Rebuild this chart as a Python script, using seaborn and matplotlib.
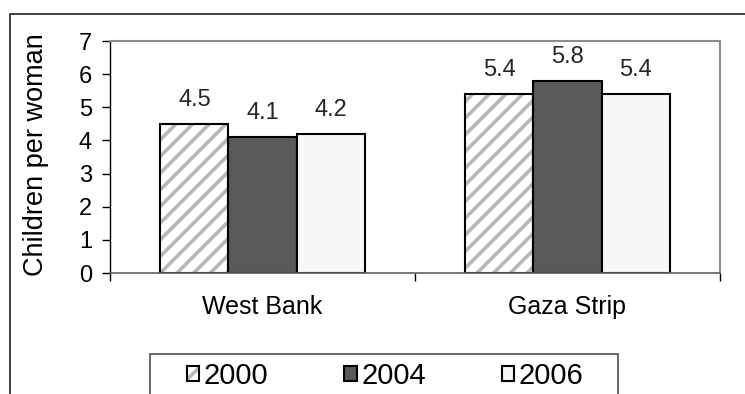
import matplotlib
matplotlib.use("Agg")
import matplotlib.pyplot as plt
import pandas as pd
import seaborn as sns
from matplotlib.colors import to_rgba
from matplotlib.lines import Line2D
from matplotlib.patches import Rectangle

# Total fertility rate (children per woman)
regions = ["West Bank", "Gaza Strip"]
years = ["2000", "2004", "2006"]
tfr_2000 = [4.5, 5.4]
tfr_2004 = [4.1, 5.8]
tfr_2006 = [4.2, 5.4]

sns.set_theme(style="white")
plt.rcParams["font.family"] = ["Liberation Sans", "DejaVu Sans"]
plt.rcParams["hatch.linewidth"] = 2.6

df = pd.DataFrame({
    "region": regions * 3,
    "year": [y for y in years for _ in regions],
    "value": tfr_2000 + tfr_2004 + tfr_2006,
})

W, H = 745, 394
fig = plt.figure(figsize=(W / 100, H / 100), dpi=100)
ax = fig.add_axes([110 / W, 1 - 273 / H, 610 / W, 232 / H])

palette = {"2000": "#ffffff", "2004": "#595959", "2006": "#f8f8f8"}
sns.barplot(data=df, x="region", y="value", hue="year", order=regions,
            hue_order=years, palette=palette, width=0.67, saturation=1,
            edgecolor="black", linewidth=1.5, errorbar=None, legend=False,
            ax=ax)

# diagonal light-grey stripes on the 2000 bars
for p in ax.containers[0]:
    p.set_hatch("//")
    p._hatch_color = to_rgba("#b8b8b8")

# value labels above each bar
for cont in ax.containers:
    for p in cont:
        ax.annotate(f"{p.get_height():.1f}",
                    (p.get_x() + p.get_width() / 2, p.get_height()),
                    xytext=(0, 13), textcoords="offset points",
                    ha="center", va="baseline", fontsize=17)

ax.set_ylim(0, 7)
ax.set_yticks(range(0, 8))
ax.set_xlim(-0.5, 1.5)
ax.set_xticks([0, 1])
ax.set_xticklabels(regions)
ax.set_xticks([-0.5, 0.5, 1.5], minor=True)
ax.tick_params(axis="x", which="major", length=0, pad=16, labelsize=18,
               labelcolor="black")
ax.tick_params(axis="x", which="minor", length=6, width=1, color="black",
               bottom=True, direction="out")
ax.tick_params(axis="y", length=6, width=1, color="black", left=True,
               direction="out", pad=7, labelsize=17, labelcolor="black")

ax.set_xlabel("")
ax.set_ylabel("Children per woman", fontsize=19.5, color="black")
ax.yaxis.set_label_coords(-0.1005, 0.51)

ax.spines["left"].set_color("black")
ax.spines["left"].set_linewidth(1.0)
ax.spines["bottom"].set_color("#606060")
ax.spines["bottom"].set_linewidth(1.2)
for s in ("top", "right"):
    ax.spines[s].set_color("#8c8c8c")
    ax.spines[s].set_linewidth(1.5)

# legend
leg = ax.legend(ax.containers, years, loc="center",
                bbox_to_anchor=(385 / W, 1 - 376 / H),
                bbox_transform=fig.transFigure, ncol=3, frameon=False,
                fontsize=21, handlelength=0.43, handleheight=0.43,
                handletextpad=0.15, columnspacing=2.6, borderpad=0,
                borderaxespad=0)
for t in leg.get_texts():
    t.set_color("black")

fig.add_artist(Rectangle((150 / W, -0.2), 468 / W, 0.2 + 1 - 354 / H,
                         transform=fig.transFigure, fill=False,
                         edgecolor="#505050", linewidth=1.2))

# chart border
fig.add_artist(Line2D([10 / W, 10 / W, 1.0], [0, 1 - 14 / H, 1 - 14 / H],
                      transform=fig.transFigure, color="#222222",
                      linewidth=1.2))

fig.savefig("out.png", dpi=100, facecolor="white")
